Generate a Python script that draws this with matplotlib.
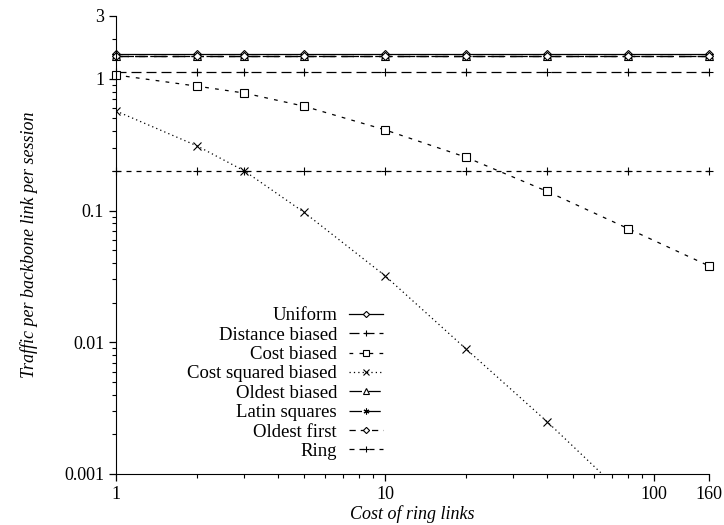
import matplotlib
matplotlib.use("Agg")
import matplotlib.pyplot as plt
from matplotlib.ticker import FixedLocator, FixedFormatter, LogLocator, NullFormatter

# 비용(링 링크) 값
cost = [1, 2, 3, 5, 10, 20, 40, 80, 160]

# 각 방식별 백본 링크당 트래픽
uniform = [1.55, 1.55, 1.55, 1.55, 1.55, 1.55, 1.55, 1.55, 1.55]
distance_biased = [1.12, 1.12, 1.12, 1.12, 1.12, 1.12, 1.12, 1.12, 1.12]
cost_biased = [1.07, 0.88, 0.78, 0.62, 0.41, 0.254, 0.14, 0.073, 0.038]
cost_sq_biased = [0.57, 0.31, 0.20, 0.097, 0.032, 0.0089, 0.0025, 0.00065, 0.00017]
oldest_biased = [1.5, 1.5, 1.5, 1.5, 1.5, 1.5, 1.5, 1.5, 1.5]
latin_squares = [1.5, 1.5, 1.5, 1.5, 1.5, 1.5, 1.5, 1.5, 1.5]
oldest_first = [1.49, 1.49, 1.49, 1.49, 1.49, 1.49, 1.49, 1.49, 1.49]
ring = [0.2, 0.2, 0.2, 0.2, 0.2, 0.2, 0.2, 0.2, 0.2]

plt.rcParams["font.family"] = ["Liberation Serif", "DejaVu Serif"]

fig = plt.figure(figsize=(7.24, 5.25), dpi=100)
ax = fig.add_axes([116 / 724, 1 - 474 / 525, (709 - 116) / 724, (474 - 16) / 525])

common = dict(color="black", linewidth=0.9, markeredgewidth=0.8)

ax.plot(cost, uniform, linestyle="-", marker="D", markersize=4.5,
        markerfacecolor="white", label="Uniform", clip_on=False, **common)
ax.plot(cost, distance_biased, linestyle=(0, (8, 4)), marker="+", markersize=6,
        label="Distance biased", clip_on=False, **common)
ax.plot(cost, cost_biased, linestyle=(0, (3, 5)), marker="s", markersize=6,
        markerfacecolor="white", label="Cost biased", clip_on=False, **common)
ax.plot(cost, cost_sq_biased, linestyle=(0, (1, 2.5)), marker="x", markersize=6,
        label="Cost squared biased", **common)
ax.plot(cost, oldest_biased, linestyle=(0, (10, 5)), marker="^", markersize=6,
        markerfacecolor="white", label="Oldest biased", clip_on=False, **common)
ax.plot(cost, latin_squares, linestyle=(0, (10, 5)), marker=(6, 2, 0), markersize=6,
        label="Latin squares", clip_on=False, **common)
ax.plot(cost, oldest_first, linestyle=(0, (5, 4)), marker="D", markersize=4.5,
        markerfacecolor="white", label="Oldest first", clip_on=False, **common)
ax.plot(cost, ring, linestyle=(0, (4, 4)), marker="+", markersize=6,
        label="Ring", clip_on=False, **common)

ax.set_xscale("log")
ax.set_yscale("log")
ax.set_xlim(1, 160)
ax.set_ylim(0.001, 3)

ax.xaxis.set_major_locator(FixedLocator([1, 10, 100, 160]))
ax.xaxis.set_major_formatter(FixedFormatter(["1", "10", "100", "160"]))
ax.xaxis.set_minor_locator(LogLocator(base=10, subs=range(2, 10)))
ax.xaxis.set_minor_formatter(NullFormatter())
ax.yaxis.set_major_locator(FixedLocator([0.001, 0.01, 0.1, 1, 3]))
ax.yaxis.set_major_formatter(FixedFormatter(["0.001", "0.01", "0.1", "1", "3"]))
ax.yaxis.set_minor_locator(LogLocator(base=10, subs=range(2, 10)))
ax.yaxis.set_minor_formatter(NullFormatter())

ax.spines["top"].set_visible(False)
ax.spines["right"].set_visible(False)
ax.tick_params(which="major", direction="out", length=5, width=0.9, labelsize=13)
ax.tick_params(which="minor", direction="out", length=3, width=0.8)

ax.set_xlabel("Cost of ring links", fontsize=13, style="italic", labelpad=2)
ax.set_ylabel("Traffic per backbone link per session", fontsize=13,
              style="italic", labelpad=19)

# 범례: 라벨은 왼쪽, 선 샘플은 오른쪽
ax.legend(loc="lower right", bbox_to_anchor=((383 - 116) / 593, (474 - 460) / 458),
          frameon=False, markerfirst=False, fontsize=13.5, handlelength=1.8,
          handletextpad=0.65, labelspacing=0.12, borderaxespad=0, borderpad=0,
          numpoints=1, markerscale=0.7)

fig.savefig("out.png", dpi=100)
